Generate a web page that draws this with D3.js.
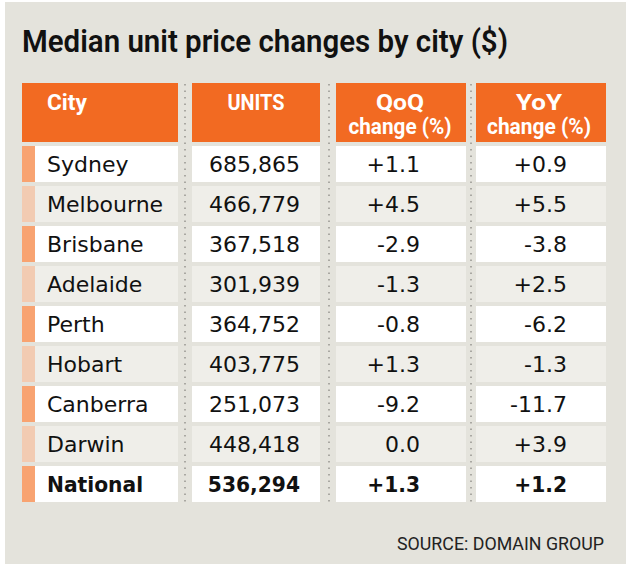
<!DOCTYPE html>
<html><head><meta charset="utf-8">
<script src="https://cdn.jsdelivr.net/npm/d3@7"></script>
<style>body{margin:0;background:#fff}svg{display:block}</style>
</head><body>
<script>
const title = "Median unit price changes by city ($)";
const headers = [["City"], ["UNITS"], ["QoQ", "change (%)"], ["YoY", "change (%)"]];
const cities = ["Sydney","Melbourne","Brisbane","Adelaide","Perth","Hobart","Canberra","Darwin","National"];
const units = ["685,865","466,779","367,518","301,939","364,752","403,775","251,073","448,418","536,294"];
const qoq = ["+1.1","+4.5","-2.9","-1.3","-0.8","+1.3","-9.2","0.0","+1.3"];
const yoy = ["+0.9","+5.5","-3.8","+2.5","-6.2","-1.3","-11.7","+3.9","+1.2"];
const source = "SOURCE: DOMAIN GROUP";

const W = 640, H = 569;
const svg = d3.select("body").append("svg").attr("width", W).attr("height", H);
svg.append("rect").attr("x",5).attr("y",2).attr("width",621).attr("height",562).attr("fill","#e4e3dc");

const condensed = "'Liberation Sans Narrow','Roboto','Open Sans',sans-serif";
svg.append("text").attr("x",22).attr("y",52).text(title)
  .attr("font-family",condensed).attr("font-weight",600).attr("font-size",32)
  .attr("fill","#111").attr("textLength",486).attr("lengthAdjust","spacingAndGlyphs");

const cols = [
  {x0:22, x1:178, align:"start", tx:47},
  {x0:192, x1:320, align:"end", tx:300},
  {x0:336, x1:466, align:"end", tx:420},
  {x0:476, x1:606, align:"end", tx:567}
];
const hdrCenter = [null, 256, 400, 539];
const hdrWidths = [[40],[57],[48,103],[46,104]];

// headers
cols.forEach((c,i)=>{
  svg.append("rect").attr("x",c.x0).attr("y",83).attr("width",c.x1-c.x0).attr("height",59).attr("fill","#f26a22");
  headers[i].forEach((t,j)=>{
    const tt = svg.append("text").text(t).attr("fill","#fff").attr("font-family",condensed)
      .attr("font-weight","bold").attr("font-size",22)
      .attr("y", 110 + j*24)
      .attr("textLength",hdrWidths[i][j]).attr("lengthAdjust","spacingAndGlyphs");
    if(i===0) tt.attr("x",47);
    else tt.attr("x",hdrCenter[i]).attr("text-anchor","middle");
  });
});

// dotted separators
[185, 329, 471].forEach(x=>{
  svg.append("line").attr("x1",x).attr("x2",x).attr("y1",84).attr("y2",506)
    .attr("stroke","#a9a8a2").attr("stroke-width",2).attr("stroke-dasharray","1.5,5");
});

const y = d3.scaleBand().domain(cities).range([144,504]).paddingInner(0.1).paddingOuter(0.05);
const rows = svg.selectAll("g.row").data(cities).join("g").attr("class","row")
  .attr("transform",d=>`translate(0,${y(d)})`);

rows.each(function(city,i){
  const g = d3.select(this);
  const fill = i%2===0 ? "#ffffff" : "#efeee9";
  const accent = i%2===0 ? "#f8a371" : "#f2cbb2";
  const bh = y.bandwidth();
  g.append("rect").attr("x",22).attr("y",0).attr("width",13).attr("height",bh).attr("fill",accent);
  g.append("rect").attr("x",35).attr("y",0).attr("width",178-35).attr("height",bh).attr("fill",fill);
  cols.slice(1).forEach(c=>{
    g.append("rect").attr("x",c.x0).attr("y",0).attr("width",c.x1-c.x0).attr("height",bh).attr("fill",fill);
  });
  const vals = [city, units[i], qoq[i], yoy[i]];
  const bold = city === "National";
  vals.forEach((v,k)=>{
    const t = g.append("text").attr("x",cols[k].tx).attr("y",bh/2+8).attr("text-anchor",cols[k].align)
      .attr("font-family","'DejaVu Sans',sans-serif").attr("font-size",22)
      .attr("font-weight",bold?"bold":"normal").attr("fill","#111").text(v);
    if (bold) {
      const w = t.node().getComputedTextLength();
      t.attr("textLength", w*0.92).attr("lengthAdjust","spacingAndGlyphs");
    }
  });
});

svg.append("text").attr("x",604).attr("y",550).attr("text-anchor","end").text(source)
  .attr("font-family",condensed).attr("font-size",19).attr("fill","#222")
  .attr("textLength",207).attr("lengthAdjust","spacingAndGlyphs");
</script>
</body></html>
